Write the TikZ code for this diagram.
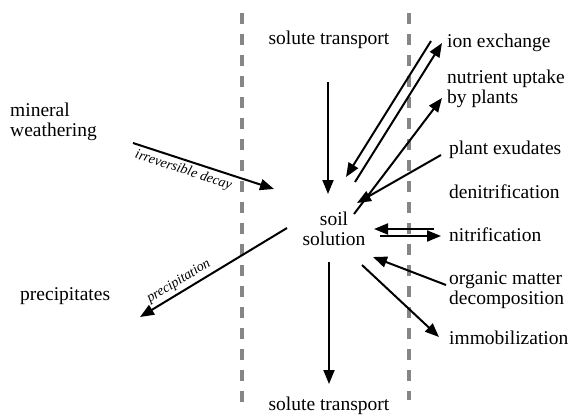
\documentclass[tikz,border=0pt]{standalone}
\usepackage{fontspec}
\setmainfont{Liberation Serif}
\usetikzlibrary{arrows.meta}
\tikzset{
  lbl/.style={inner sep=0pt, font=\fontsize{19.5}{20.5}\selectfont, align=left},
  flowlbl/.style={inner sep=0pt, font=\fontsize{14}{15}\selectfont\itshape},
  flow/.style={line width=2pt, -{Triangle[length=14pt,width=11pt]}},
  boundary/.style={draw=gray!95, line width=4pt, dash pattern=on 11pt off 10pt}
}
\begin{document}
\begin{tikzpicture}[x=1pt,y=-1pt]
\useasboundingbox (0,0) rectangle (571,416);

% compartment boundaries
\draw[boundary] (242,13) -- (242,404);
\draw[boundary] (409,13) -- (409,400);

% labels
\node[lbl, align=center] (soil) at (334,229) {soil\\solution};
\node[lbl] (topst) at (329,40) {solute transport};
\node[lbl] (botst) at (329,406) {solute transport};
\node[lbl, anchor=west] (mw) at (10,122) {mineral\\weathering};
\node[lbl, anchor=west] (pr) at (20,296) {precipitates};
\node[lbl, anchor=west] (ion) at (447,43) {ion exchange};
\node[lbl, anchor=west] (nut) at (447,89) {nutrient uptake\\by plants};
\node[lbl, anchor=west] (pe) at (449,150) {plant exudates};
\node[lbl, anchor=west] (den) at (449,192) {denitrification};
\node[lbl, anchor=west] (nit) at (449,235) {nitrification};
\node[lbl, anchor=west] (om) at (449,290) {organic matter\\decomposition};
\node[lbl, anchor=west] (imm) at (449,338) {immobilization};

% arrow end points
\coordinate (topA) at (328,82);    \coordinate (topB) at (328,194);
\coordinate (botA) at (329,262);   \coordinate (botB) at (329,384);
\coordinate (mwA) at (133,143);    \coordinate (mwB) at (274,189);
\coordinate (prA) at (287,228);    \coordinate (prB) at (140,317);
\coordinate (ionInA) at (431,41);  \coordinate (ionInB) at (346,177);
\coordinate (ionOutA) at (355,182);\coordinate (ionOutB) at (442,43);
\coordinate (nutA) at (354,214);   \coordinate (nutB) at (442,98);
\coordinate (peA) at (441,155);    \coordinate (peB) at (357,203);
\coordinate (nitInA) at (434,229); \coordinate (nitInB) at (374,229);
\coordinate (nitOutA) at (380,236);\coordinate (nitOutB) at (441,236);
\coordinate (omA) at (446,285);    \coordinate (omB) at (373,257);
\coordinate (immA) at (362,265);   \coordinate (immB) at (439,337);

% fluxes
\draw[flow] (topA) -- (topB);
\draw[flow] (botA) -- (botB);
\draw[flow] (mwA) -- node[flowlbl, sloped, below=3pt, pos=0.38] (mwl) {irreversible decay} (mwB);
\draw[flow] (prA) -- node[flowlbl, sloped, above=3pt, pos=0.7] (prl) {precipitation} (prB);
\draw[flow] (ionInA) -- (ionInB);
\draw[flow] (ionOutA) -- (ionOutB);
\draw[flow] (nutA) -- (nutB);
\draw[flow] (peA) -- (peB);
\draw[flow] (nitInA) -- (nitInB);
\draw[flow] (nitOutA) -- (nitOutB);
\draw[flow] (omA) -- (omB);
\draw[flow] (immA) -- (immB);
\end{tikzpicture}
\end{document}
